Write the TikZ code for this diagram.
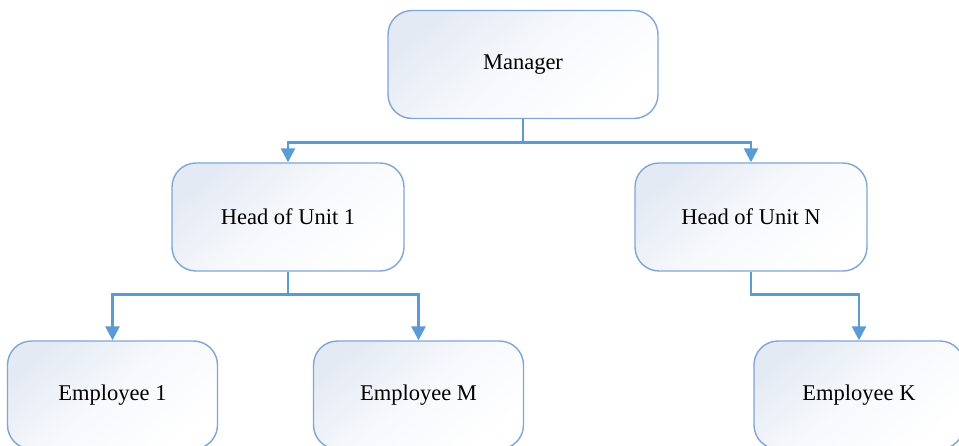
\documentclass[tikz,border=0pt]{standalone}
\usepackage{fontspec}
\setmainfont{Liberation Serif}
\usetikzlibrary{arrows.meta}
\definecolor{linkblue}{HTML}{5B9BD5}
\definecolor{edgeblue}{HTML}{7FA6D6}
\definecolor{shadetop}{HTML}{E4EAF4}
\tikzset{
  orgbox/.style={draw=edgeblue, line width=1.4pt, rounded corners=24pt,
    top color=shadetop, bottom color=white, middle color=white!70!shadetop,
    shading angle=40,
    minimum height=108pt, inner sep=0pt, font=\fontsize{22.5}{26}\selectfont},
  wide/.style={minimum width=270pt},
  mid/.style={minimum width=232pt},
  narrow/.style={minimum width=210pt},
  link/.style={draw=linkblue, line width=2.7pt},
  linkarrow/.style={link, -{Triangle[width=14pt,length=14pt]}}
}
\begin{document}
\begin{tikzpicture}[x=1pt,y=-1pt]
  \useasboundingbox (0,0) rectangle (959,445);
  \clip (0,0) rectangle (959,445);
  \fill[white] (0,0) rectangle (959,445);

  % boxes
  \node[orgbox, wide]   (manager) at (523,64.5) {Manager};
  \node[orgbox, mid]    (head1)   at (288,217)  {Head of Unit 1};
  \node[orgbox, mid]    (headn)   at (751,217)  {Head of Unit N};
  \node[orgbox, narrow] (emp1)    at (112.5,395) {Employee 1};
  \node[orgbox, narrow] (empm)    at (418.5,395) {Employee M};
  \node[orgbox, narrow] (empk)    at (859,395)  {Employee K};

  % manager to unit heads
  \draw[link] (manager.south) -- ++(0,23) coordinate (bus1);
  \draw[linkarrow] (bus1) -| (head1.north);
  \draw[linkarrow] (bus1) -| (headn.north);

  % unit 1 to its employees
  \draw[link] (head1.south) -- ++(0,23) coordinate (bus2);
  \draw[linkarrow] (bus2) -| (emp1.north);
  \draw[linkarrow] (bus2) -| (empm.north);

  % unit N to its employee
  \draw[linkarrow] (headn.south) -- ++(0,23) -| (empk.north);
\end{tikzpicture}
\end{document}
